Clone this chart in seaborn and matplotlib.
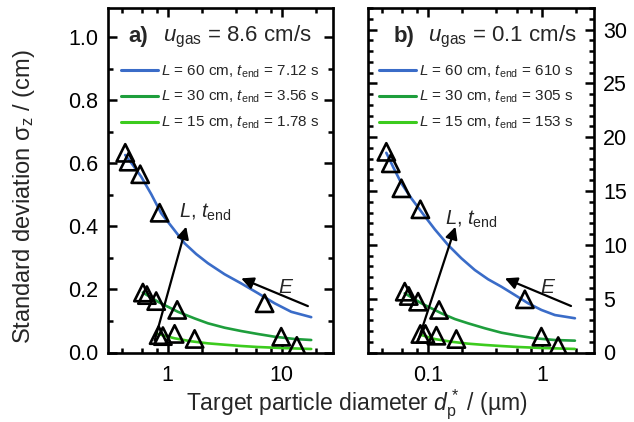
import matplotlib
matplotlib.use("Agg")
import matplotlib.pyplot as plt
import seaborn as sns
from matplotlib.lines import Line2D
from matplotlib.ticker import FixedLocator, NullFormatter, MultipleLocator, FixedFormatter

# ---- data ----
# panel a) u_gas = 8.6 cm/s, d_p* in um, sigma_z in cm
a_meas_d = [0.425, 0.455, 0.575, 0.851, 0.607, 0.658, 0.794, 1.214, 7.09,
            0.834, 0.909, 1.152, 1.725, 9.92, 13.6]
a_meas_s = [0.633, 0.605, 0.565, 0.443, 0.190, 0.182, 0.163, 0.135, 0.156,
            0.055, 0.052, 0.059, 0.043, 0.050, 0.021]
a_d60 = [0.425, 0.496, 0.587, 0.718, 0.879, 1.113, 1.41, 1.782, 2.257, 3.162,
         4.42, 6.196, 8.68, 12.14, 18.18]
a_s60 = [0.626, 0.594, 0.557, 0.502, 0.441, 0.394, 0.346, 0.312, 0.283, 0.248,
         0.219, 0.188, 0.156, 0.129, 0.112]
a_d30 = [0.607, 0.822, 1.231, 1.725, 2.257, 3.162, 4.42, 6.196, 8.68, 13.0, 18.18]
a_s30 = [0.190, 0.161, 0.129, 0.108, 0.0926, 0.0786, 0.068, 0.0586, 0.050,
         0.0428, 0.0396]
a_d15 = [0.822, 1.152, 1.61, 2.257, 3.162, 4.42, 6.196, 9.92, 18.18]
a_s15 = [0.0586, 0.045, 0.0355, 0.029, 0.0247, 0.0206, 0.0174, 0.0143, 0.0111]

# panel b) u_gas = 0.1 cm/s, sigma_z on right axis
b_meas_d = [0.0433, 0.0474, 0.0587, 0.0861, 0.0628, 0.0681, 0.0822, 0.1256, 0.709,
            0.0861, 0.0953, 0.119, 0.178, 0.99, 1.39]
b_meas_s = [18.64, 17.57, 15.25, 13.3, 5.65, 5.25, 4.72, 3.95, 4.94,
            1.72, 1.72, 1.56, 1.25, 1.47, 0.60]
b_d60 = [0.0433, 0.0496, 0.0587, 0.0718, 0.0879, 0.1152, 0.1507, 0.197, 0.2584,
         0.338, 0.442, 0.58, 0.758, 0.992, 1.30, 1.948]
b_s60 = [18.55, 17.25, 15.71, 14.32, 13.07, 11.44, 9.98, 8.75, 7.66,
         6.80, 6.11, 5.34, 4.57, 3.95, 3.48, 3.18]
b_d30 = [0.0628, 0.0879, 0.1316, 0.1725, 0.2257, 0.3162, 0.442, 0.62, 0.868,
         1.30, 1.948]
b_s30 = [5.50, 4.57, 3.64, 3.11, 2.71, 2.25, 1.84, 1.56, 1.32, 1.16, 1.10]
b_d15 = [0.0879, 0.1152, 0.161, 0.2257, 0.3162, 0.442, 0.62, 0.992, 1.948]
b_s15 = [1.62, 1.25, 1.00, 0.82, 0.70, 0.60, 0.51, 0.42, 0.33]

a_labels = [r"$L$ = 60 cm, $t_\mathrm{end}$ = 7.12 s",
            r"$L$ = 30 cm, $t_\mathrm{end}$ = 3.56 s",
            r"$L$ = 15 cm, $t_\mathrm{end}$ = 1.78 s"]
b_labels = [r"$L$ = 60 cm, $t_\mathrm{end}$ = 610 s",
            r"$L$ = 30 cm, $t_\mathrm{end}$ = 305 s",
            r"$L$ = 15 cm, $t_\mathrm{end}$ = 153 s"]

colors = ["#3a6cc8", "#1e9e3c", "#3ccb1e"]

sns.set_style("ticks")
plt.rcParams["font.family"] = ["Liberation Sans", "DejaVu Sans"]
plt.rcParams["mathtext.fontset"] = "custom"
plt.rcParams["mathtext.rm"] = "Liberation Sans"
plt.rcParams["mathtext.it"] = "Liberation Sans:italic"
plt.rcParams["mathtext.bf"] = "Liberation Sans:bold"

fig = plt.figure(figsize=(6.34, 4.22), dpi=100)
ax_a = fig.add_axes([108 / 634, 69.5 / 422, 225.3 / 634, 344.5 / 422])
ax_b = fig.add_axes([368.3 / 634, 69.5 / 422, 225.3 / 634, 344.5 / 422])


def style_axis(ax):
    ax.set_xscale("log")
    for sp in ax.spines.values():
        sp.set_linewidth(1.9)
        sp.set_color("black")
    ax.tick_params(which="both", direction="in", top=True, right=True,
                   width=1.8, colors="black", labelsize=15.5)
    ax.tick_params(which="major", length=6.5)
    ax.tick_params(which="minor", length=3.5)
    ax.tick_params(axis="x", pad=9)
    ax.tick_params(axis="y", pad=7)


def draw_panel(ax, dm, sm, curves, labels):
    for (d, s), c in zip(curves, colors):
        sns.lineplot(x=d, y=s, ax=ax, color=c, lw=1.9, sort=False,
                     estimator=None, zorder=2)
    sns.scatterplot(x=dm, y=sm, ax=ax, marker="^", s=155, color="black",
                    facecolor="none", edgecolor="black", linewidth=1.9, zorder=3)
    handles = [Line2D([], [], color=c, lw=2.2) for c in colors]
    ax.legend(handles, labels, loc="upper left", frameon=False, fontsize=11,
              handlelength=2.4, handletextpad=0.2, labelspacing=0.62,
              borderpad=0, borderaxespad=0)


arrow_kw = dict(arrowstyle="-|>", color="black", lw=1.6,
                mutation_scale=18, shrinkA=0, shrinkB=0)

# panel a
style_axis(ax_a)
draw_panel(ax_a, a_meas_d, a_meas_s,
           [(a_d60, a_s60), (a_d30, a_s30), (a_d15, a_s15)], a_labels)
ax_a.get_legend().set_bbox_to_anchor((0.058, 0.84), transform=ax_a.transAxes)
ax_a.set_xlim(0.3, 28.4)
ax_a.set_ylim(0, 1.092)
ax_a.xaxis.set_major_locator(FixedLocator([1, 10]))
ax_a.xaxis.set_major_formatter(FixedFormatter(["1", "10"]))
ax_a.xaxis.set_minor_locator(FixedLocator([0.4, 0.6, 0.8, 2, 4, 6, 8, 20]))
ax_a.xaxis.set_minor_formatter(NullFormatter())
ax_a.yaxis.set_major_locator(MultipleLocator(0.2))
ax_a.yaxis.set_minor_locator(MultipleLocator(0.1))
ax_a.yaxis.set_major_formatter(plt.FormatStrFormatter("%.1f"))
ax_a.text(0.09, 0.902, "a)", transform=ax_a.transAxes, fontsize=16,
          fontweight="bold", va="baseline")
ax_a.text(0.245, 0.902, r"$u_\mathrm{gas}$ = 8.6 cm/s", transform=ax_a.transAxes,
          fontsize=16, va="baseline")
ax_a.annotate("", xy=(1.456, 0.399), xytext=(0.769, 0.0374), arrowprops=arrow_kw)
ax_a.annotate("", xy=(4.42, 0.235), xytext=(17.0, 0.147), arrowprops=arrow_kw)
ax_a.text(1.256, 0.428, r"$L$, $t_\mathrm{end}$", fontsize=14.5, va="baseline")
ax_a.text(9.28, 0.19, r"$E$", fontsize=15, va="baseline")

# panel b
style_axis(ax_b)
draw_panel(ax_b, b_meas_d, b_meas_s,
           [(b_d60, b_s60), (b_d30, b_s30), (b_d15, b_s15)], b_labels)
ax_b.get_legend().set_bbox_to_anchor((0.049, 0.84), transform=ax_b.transAxes)
ax_b.set_xlim(0.0301, 2.84)
ax_b.set_ylim(0, 32)
ax_b.xaxis.set_major_locator(FixedLocator([0.1, 1]))
ax_b.xaxis.set_major_formatter(FixedFormatter(["0.1", "1"]))
ax_b.xaxis.set_minor_locator(FixedLocator([0.04, 0.06, 0.08, 0.2, 0.4, 0.6, 0.8, 2]))
ax_b.xaxis.set_minor_formatter(NullFormatter())
ax_b.yaxis.set_major_locator(MultipleLocator(5))
ax_b.yaxis.set_minor_locator(MultipleLocator(1))
ax_b.tick_params(axis="y", labelleft=False, labelright=True)
ax_b.text(0.111, 0.902, "b)", transform=ax_b.transAxes, fontsize=16,
          fontweight="bold", va="baseline")
ax_b.text(0.266, 0.902, r"$u_\mathrm{gas}$ = 0.1 cm/s", transform=ax_b.transAxes,
          fontsize=16, va="baseline")
ax_b.annotate("", xy=(0.1746, 11.68), xytext=(0.0822, 1.10), arrowprops=arrow_kw)
ax_b.annotate("", xy=(0.4737, 6.89), xytext=(1.80, 4.32), arrowprops=arrow_kw)
ax_b.text(0.141, 11.84, r"$L$, $t_\mathrm{end}$", fontsize=14.5, va="baseline")
ax_b.text(0.961, 5.55, r"$E$", fontsize=15, va="baseline")

for ax in (ax_a, ax_b):
    ax.set_xlabel("")
    ax.set_ylabel("")

fig.text(24 / 634, 1 - 197 / 422, r"Standard deviation σ$_\mathrm{z}$ / (cm)",
         rotation=90, ha="center", va="center", fontsize=17)
fig.text(357 / 634, 12 / 422, r"Target particle diameter $d^*_\mathrm{p}$ / (µm)",
         ha="center", va="baseline", fontsize=16.5)

fig.savefig("out.png", dpi=100)
